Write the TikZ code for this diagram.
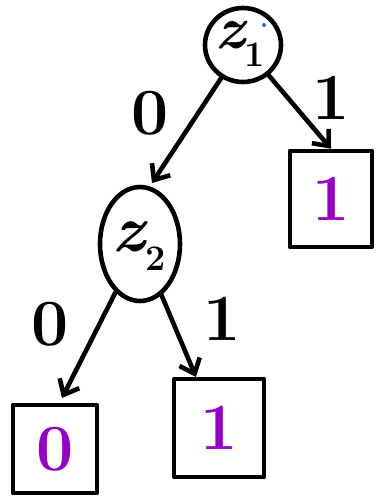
\documentclass[tikz,border=0pt]{standalone}
\usepackage{fontspec}
\usetikzlibrary{arrows.meta,shapes.geometric}
\definecolor{leafpurple}{RGB}{150,0,200}
\definecolor{dotblue}{RGB}{30,110,240}
\newcommand{\varname}[2]{{\bfseries\itshape #1}\raisebox{-0.3em}{\fontsize{36}{36}\selectfont\bfseries #2}}
\begin{document}
\begin{tikzpicture}[x=1pt,y=-1pt,
  ink/.style={line width=4.6pt,line cap=round,line join=round},
  varnode/.style={ellipse,draw,ink,inner sep=0pt},
  leaf/.style={draw,ink,inner sep=0pt,font=\fontsize{66}{66}\selectfont\bfseries,text=leafpurple},
  edge/.style={ink,-{Straight Barb[length=13pt,width=22pt,line width=4.6pt]}},
  elabel/.style={font=\fontsize{66}{66}\selectfont\bfseries}]
\useasboundingbox (0,0) rectangle (377,498);
% decision nodes
\node[varnode,minimum width=76pt,minimum height=74pt] (z1) at (243,45) {};
\node (z1t) at (240,44) {\fontsize{60}{60}\selectfont\varname{z}{1}};
\node[varnode,minimum width=80pt,minimum height=114pt] (z2) at (140,244) {};
\node (z2t) at (139,246) {\fontsize{66}{66}\selectfont\varname{z}{2}};
\fill[dotblue] (264,25) circle (2pt);
% leaves
\node[leaf,minimum width=82pt,minimum height=96pt] (l1) at (331,199) {1};
\node[leaf,minimum width=84pt,minimum height=88pt] (l0) at (55,449) {0};
\node[leaf,minimum width=90pt,minimum height=98pt] (l2) at (219,428) {1};
% branches
\draw[edge] (z1) -- (152,183) coordinate (t1);
\draw[edge] (z1) -- (l1.north);
\draw[edge] (z2) -- (62,398);
\draw[edge] (z2) -- (196,377);
% branch labels
\node[elabel] (a) at (150,113) {0};
\node[elabel] (b) at (331,98) {1};
\node[elabel] (c) at (50,324) {0};
\node[elabel] (d) at (222,319) {1};
\end{tikzpicture}
\end{document}
